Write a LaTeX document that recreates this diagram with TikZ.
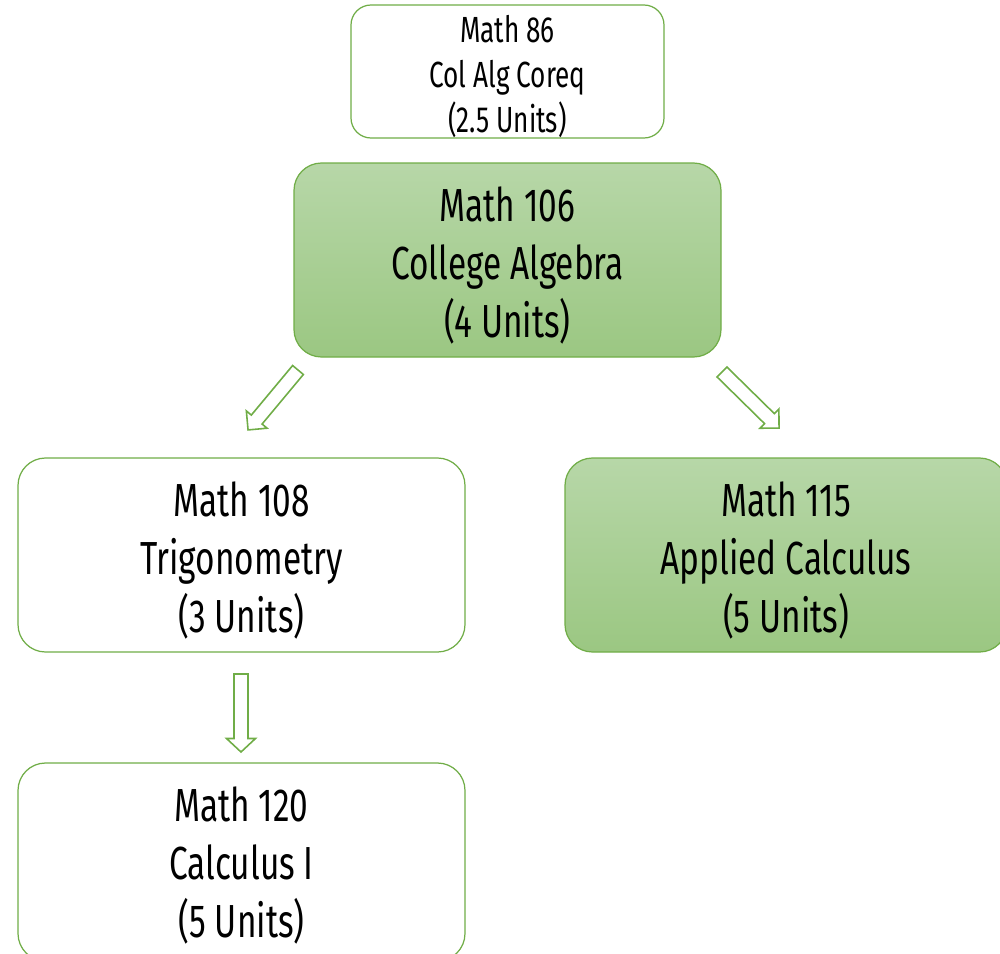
\documentclass[tikz,border=0pt]{standalone}
\usepackage{fontspec}
\setmainfont{Fira Sans}[FakeStretch=0.72]
\definecolor{gborder}{RGB}{112,173,71}
\definecolor{gtop}{RGB}{183,215,168}
\definecolor{gbot}{RGB}{155,199,130}
\tikzset{
  course/.style={draw=gborder, line width=0.7pt, rounded corners=0.55cm, align=center,
     font=\fontsize{26.4}{33}\selectfont, inner sep=0pt, minimum width=8.9cm, minimum height=3.88cm},
  green/.style={top color=gtop, bottom color=gbot},
  plain/.style={fill=white},
  arrowline/.style={draw=gborder, fill=white, line width=0.9pt, line join=miter}
}
\newcommand\blockarr[4]{% #1 tail coordinate, #2 angle, #3 length, #4 head half width
\begin{scope}[shift={(#1)}, rotate=#2]
\draw[arrowline] (0,-0.14) -- ({#3-0.27},-0.14) -- ({#3-0.27},-#4) -- (#3,0)
   -- ({#3-0.27},#4) -- ({#3-0.27},0.14) -- (0,0.14) -- cycle;
\end{scope}}
\newcommand\up[1]{\rule{0pt}{#1}}
\begin{document}
\begin{tikzpicture}
\useasboundingbox (0,0) rectangle (20,-19.08);
\clip (0,0) rectangle (20,-19.08);
\node[course, plain, rounded corners=0.4cm, minimum width=6.26cm, minimum height=2.66cm,
      font=\fontsize{20.7}{25.6}\selectfont] (m86) at (10.15,-1.43) {\up{21.3pt}Math 86\\Col Alg Coreq\\(2.5 Units)};
\node[course, green, minimum width=8.54cm] (m106) at (10.15,-5.2) {\up{25.6pt}Math 106\\College Algebra\\(4 Units)};
\node[course, plain, minimum width=8.94cm] (m108) at (4.83,-11.1) {\up{25.6pt}Math 108\\Trigonometry\\(3 Units)};
\node[course, green, minimum width=8.84cm] (m115) at (15.72,-11.1) {\up{25.6pt}Math 115\\Applied Calculus\\(5 Units)};
\node[course, plain, minimum width=8.94cm, minimum height=3.96cm] (m120) at (4.83,-17.24) {\up{24pt}Math 120\\Calculus I\\(5 Units)};
\coordinate (t1) at (5.96,-7.4);
\coordinate (t2) at (14.44,-7.44);
\coordinate (t3) at (4.82,-13.48);
\blockarr{t1}{230.2}{1.56}{0.27}
\blockarr{t2}{-44.5}{1.6}{0.27}
\blockarr{t3}{-90}{1.56}{0.29}
\end{tikzpicture}
\end{document}
